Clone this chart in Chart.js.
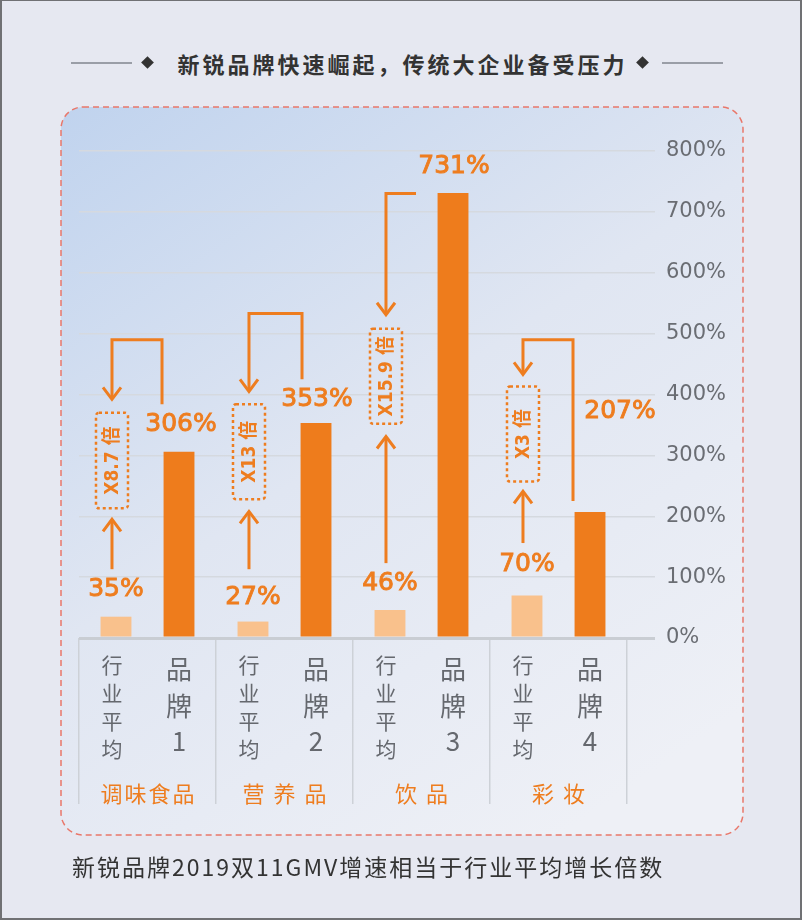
<!DOCTYPE html>
<html>
<head>
<meta charset="utf-8">
<script src="https://cdn.jsdelivr.net/npm/chart.js@4.4.1/dist/chart.umd.min.js"></script>
<style>
    html, body { margin: 0; padding: 0; }
    body {
        width: 802px; height: 920px; position: relative; overflow: hidden;
        background: #e6e8f1;
        font-family: "Noto Sans CJK SC", "Noto Sans", sans-serif;
    }
    #frame {
        position: absolute; left: 0; top: 0; width: 802px; height: 920px;
        box-sizing: border-box; border: 2px solid #707174; border-top-width: 1px;
        pointer-events: none; z-index: 5;
    }
    #c { position: absolute; left: 0; top: 0; }
    .rule { position: absolute; top: 62px; height: 2px; width: 61px; background: #9a9ea7; }
    .dia {
        position: absolute; top: 58px; width: 9px; height: 9px; background: #333;
        transform: rotate(45deg);
    }
    #title {
        position: absolute; left: 0; top: 49px; width: 802px; padding-left: 3px; box-sizing: border-box;
        text-align: center; font-size: 22px; line-height: 28px; font-weight: bold;
        letter-spacing: 3px; color: #333;
    }
    #caption {
        position: absolute; left: 72px; top: 852px; font-size: 23px; line-height: 28px;
        letter-spacing: 2px; color: #333;
    }
</style>
</head>
<body>
<div class="rule" style="left:71px"></div>
<div class="dia" style="left:143px"></div>
<div id="title">新锐品牌快速崛起，传统大企业备受压力</div>
<div class="dia" style="left:638px"></div>
<div class="rule" style="left:662px"></div>
<canvas id="c" width="802" height="920"></canvas>
<div id="caption">新锐品牌2019双11GMV增速相当于行业平均增长倍数</div>
<div id="frame"></div>

<script>
    // datos
    const categories = ['调味食品', '营 养 品', '饮 品', '彩 妆'];
    const seriesNames = ['行业平均', '品牌'];
    const brandNumbers = ['1', '2', '3', '4'];
    const industryGrowth = [35, 27, 46, 70];
    const brandGrowth = [306, 353, 731, 207];
    const multipliers = ['X8.7 倍', 'X13 倍', 'X15.9 倍', 'X3 倍'];
    const yMax = 800;
    const yStep = 100;

    const ORANGE = '#ee7d1f';

    // anotaciones (en unidades del eje y, %)
    const notes = {
        upArrow: [[113, 195], [113, 208], [123, 331], [156, 241]],
        box: [[213, 370], [228, 384], [352, 508], [257, 413]],
        bracketTop: [490, 533, 730, 490],
        bracketTip: [392, 405, 531, 433],
        bracketFoot: [384, 425, null, 225],
        bracketDx: [-17, -14, -37, -17],
        industryLabelAt: [80, 66, 90, 121],
        brandLabelAt: [351, 392, 774, 372],
        brandLabelDx: [2, 1, 1, 30]
    };

    function arrowHead(ctx, x, y, dir) {
        ctx.beginPath();
        ctx.moveTo(x - 9, y - dir * 12);
        ctx.lineTo(x, y);
        ctx.lineTo(x + 9, y - dir * 12);
        ctx.stroke();
    }

    const panelPlugin = {
        id: 'panel',
        beforeDraw(chart) {
            const ctx = chart.ctx;
            ctx.save();
            const g = ctx.createLinearGradient(61, 107, 560, 836);
            g.addColorStop(0, '#c0d3ee');
            g.addColorStop(0.5, '#e0e6f2');
            g.addColorStop(1, '#eef0f6');
            ctx.beginPath();
            ctx.roundRect(61, 107, 682, 728, 22);
            ctx.fillStyle = g;
            ctx.fill();
            ctx.setLineDash([6, 4]);
            ctx.strokeStyle = '#e9776a';
            ctx.lineWidth = 1.5;
            ctx.stroke();
            ctx.restore();
        }
    };

    const notesPlugin = {
        id: 'notes',
        afterDatasetsDraw(chart) {
            const ctx = chart.ctx;
            const y = chart.scales.y;
            const ind = chart.getDatasetMeta(0).data;
            const brd = chart.getDatasetMeta(1).data;

            ctx.save();
            ctx.strokeStyle = ORANGE;
            ctx.fillStyle = ORANGE;
            ctx.lineWidth = 3;
            ctx.lineJoin = 'miter';

            categories.forEach((c, i) => {
                const ax = ind[i].x - 4;
                const bx = brd[i].x + notes.bracketDx[i];

                // flecha hacia arriba
                const y0 = y.getPixelForValue(notes.upArrow[i][0]);
                const y1 = y.getPixelForValue(notes.upArrow[i][1]);
                ctx.lineWidth = 3;
                ctx.beginPath();
                ctx.moveTo(ax, y0);
                ctx.lineTo(ax, y1 + 1);
                ctx.stroke();
                arrowHead(ctx, ax, y1, -1);

                // corchete con flecha hacia abajo
                const top = y.getPixelForValue(notes.bracketTop[i]);
                const tip = y.getPixelForValue(notes.bracketTip[i]);
                ctx.beginPath();
                if (notes.bracketFoot[i] !== null) {
                    ctx.moveTo(bx, y.getPixelForValue(notes.bracketFoot[i]));
                    ctx.lineTo(bx, top);
                } else {
                    ctx.moveTo(bx, top);
                }
                ctx.lineTo(ax, top);
                ctx.lineTo(ax, tip - 1);
                ctx.stroke();
                arrowHead(ctx, ax, tip, 1);

                // caja punteada
                const bTop = y.getPixelForValue(notes.box[i][1]);
                const bBot = y.getPixelForValue(notes.box[i][0]);
                ctx.save();
                ctx.setLineDash([3, 3]);
                ctx.lineWidth = 2.5;
                ctx.beginPath();
                ctx.roundRect(ax - 16, bTop, 32, bBot - bTop, 3);
                ctx.stroke();
                ctx.restore();

                ctx.save();
                ctx.translate(ax, (bTop + bBot) / 2);
                ctx.rotate(-Math.PI / 2);
                ctx.font = 'bold 19px "DejaVu Sans Condensed", "DejaVu Sans", "Noto Sans CJK SC"';
                ctx.textAlign = 'center';
                ctx.textBaseline = 'middle';
                ctx.fillText(multipliers[i], 0, 1);
                ctx.restore();

                // etiquetas de valores
                ctx.font = '25px "DejaVu Sans"';
                ctx.textAlign = 'center';
                ctx.textBaseline = 'middle';
                ctx.lineWidth = 0.9;
                const t1 = industryGrowth[i] + '%';
                const p1 = [ind[i].x, y.getPixelForValue(notes.industryLabelAt[i])];
                ctx.fillText(t1, p1[0], p1[1]);
                ctx.strokeText(t1, p1[0], p1[1]);
                const t2 = brandGrowth[i] + '%';
                const p2 = [brd[i].x + notes.brandLabelDx[i], y.getPixelForValue(notes.brandLabelAt[i])];
                ctx.fillText(t2, p2[0], p2[1]);
                ctx.strokeText(t2, p2[0], p2[1]);
            });
            ctx.restore();
        },
        afterDraw(chart) {
            const ctx = chart.ctx;
            const x = chart.scales.x;
            const base = chart.chartArea.bottom;
            const ind = chart.getDatasetMeta(0).data;
            const brd = chart.getDatasetMeta(1).data;

            ctx.save();
            ctx.textAlign = 'center';
            ctx.textBaseline = 'middle';
            categories.forEach((c, i) => {
                ctx.fillStyle = '#65686e';
                ctx.font = '21px "Noto Sans CJK SC"';
                [...seriesNames[0]].forEach((ch, k) => {
                    ctx.fillText(ch, ind[i].x - 4, base + 27 + k * 28);
                });
                ctx.font = '26px "Noto Sans CJK SC"';
                const brandChars = [...seriesNames[1], brandNumbers[i]];
                const offs = [31, 68, 103];
                brandChars.forEach((ch, k) => {
                    ctx.fillText(ch, brd[i].x, base + offs[k]);
                });

                ctx.fillStyle = ORANGE;
                ctx.font = '22px "Noto Sans CJK SC"';
                ctx.letterSpacing = '2px';
                ctx.fillText(c, x.getPixelForValue(i) + 1, base + 156);
                ctx.letterSpacing = '0px';
            });
            ctx.restore();
        }
    };

    new Chart(document.getElementById('c'), {
        type: 'bar',
        data: {
            labels: categories,
            datasets: [{
                label: seriesNames[0],
                data: industryGrowth,
                backgroundColor: '#f9c18c',
                categoryPercentage: 0.92,
                barPercentage: 0.49
            }, {
                label: seriesNames[1],
                data: brandGrowth,
                backgroundColor: '#ee7c1c',
                categoryPercentage: 0.92,
                barPercentage: 0.49
            }]
        },
        options: {
            responsive: false,
            animation: false,
            layout: { padding: { left: 79, top: 151, right: 0, bottom: 0 } },
            plugins: {
                legend: { display: false },
                tooltip: { enabled: false }
            },
            scales: {
                x: {
                    offset: true,
                    afterFit: s => { s.height = 282; },
                    border: { display: false },
                    grid: {
                        offset: true,
                        drawOnChartArea: false,
                        tickLength: 166,
                        color: '#cdd1d7',
                        lineWidth: 1.5
                    },
                    ticks: { display: false }
                },
                y: {
                    position: 'right',
                    min: 0,
                    max: yMax,
                    afterFit: s => { s.width = 175; },
                    border: { display: false },
                    grid: {
                        tickLength: 28,
                        color: c => c.tick && c.tick.value === 0 ? '#c9cdd3' : '#d5d9df',
                        lineWidth: c => c.tick && c.tick.value === 0 ? 3 : 1.5
                    },
                    ticks: {
                        stepSize: yStep,
                        padding: 11,
                        color: '#6a6d73',
                        font: { family: 'DejaVu Sans', size: 21 },
                        callback: v => v + '%'
                    }
                }
            }
        },
        plugins: [panelPlugin, notesPlugin]
    });
</script>
</body>
</html>
